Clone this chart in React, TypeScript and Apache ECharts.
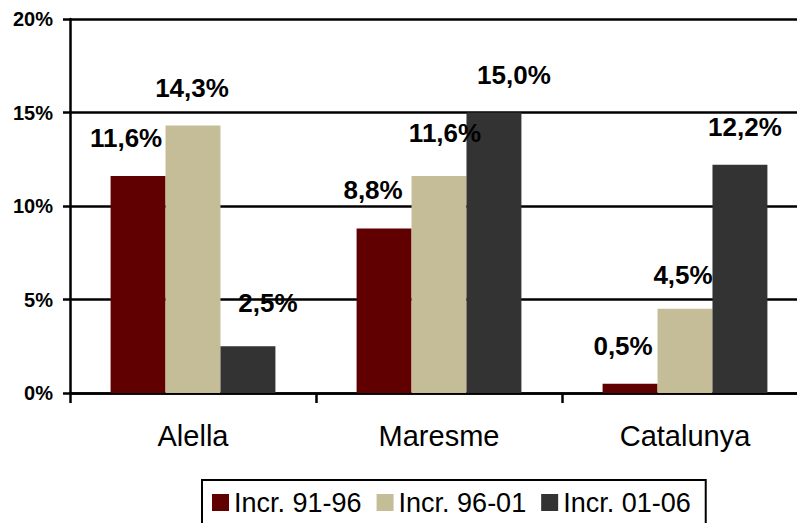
import React, { useEffect, useRef } from "react";
import * as echarts from "echarts";

const categories = ["Alella", "Maresme", "Catalunya"];
const seriesNames = ["Incr. 91-96", "Incr. 96-01", "Incr. 01-06"];
const incr9196 = [11.6, 8.8, 0.5];
const incr9601 = [14.3, 11.6, 4.5];
const incr0106 = [2.5, 15.0, 12.2];
const yTicks = [0, 5, 10, 15, 20];

const colors = ["#600000", "#C4BD97", "#333333"];
// manual label nudges (dx, dy) per series/category, as in the original layout
const labelNudges = [
  [[-12, 0], [-11, 0], [-7, 0]],
  [[-1, 0], [6, -5], [-2, 4]],
  [[20, -5], [20, 0], [5, 0]],
];

const FONT = "'Liberation Sans', Arial, Helvetica, sans-serif";

export default function App() {
  const ref = useRef<HTMLDivElement>(null);
  useEffect(() => {
    if (!ref.current) return;
    const chart = echarts.init(ref.current, null, { renderer: "svg" });
    const allData = [incr9196, incr9601, incr0106];
    const fmt = (v: number) => v.toFixed(1).replace(".", ",") + "%";
    chart.setOption({
      animation: false,
      backgroundColor: "#ffffff",
      textStyle: { fontFamily: FONT },
      grid: {
        left: 70,
        top: 19,
        width: 738,
        bottom: 130,
        containLabel: false,
        outerBoundsMode: "none",
      },
      legend: {
        left: 202,
        top: 480,
        orient: "horizontal",
        itemWidth: 17,
        itemHeight: 17,
        itemGap: 15,
        padding: [9, 15, 14, 10],
        borderColor: "#000",
        borderWidth: 2,
        borderRadius: 0,
        icon: "rect",
        textStyle: { fontSize: 27, color: "#000", fontFamily: FONT },
        data: seriesNames,
      },
      xAxis: {
        type: "category",
        data: categories,
        axisLine: { show: true, lineStyle: { color: "#000", width: 2.5 } },
        axisTick: { show: true, length: 10, lineStyle: { color: "#000", width: 2.5 } },
        axisLabel: { fontSize: 29, color: "#000", margin: 28, fontFamily: FONT },
        splitLine: { show: false },
      },
      yAxis: {
        type: "value",
        min: yTicks[0],
        max: yTicks[yTicks.length - 1],
        interval: 5,
        axisLine: { show: true, lineStyle: { color: "#000", width: 2.5 } },
        axisTick: { show: true, length: 7, lineStyle: { color: "#000", width: 2.5 } },
        axisLabel: {
          formatter: "{value}%",
          fontSize: 20,
          fontWeight: "bold",
          color: "#000",
          margin: 17,
          fontFamily: FONT,
        },
        splitLine: { show: true, lineStyle: { color: "#000", width: 2.5 } },
      },
      series: allData.map((d, si) => ({
        name: seriesNames[si],
        type: "bar",
        barGap: "0%",
        barCategoryGap: "33%",
        itemStyle: { color: colors[si] },
        data: d.map((v, ci) => ({
          value: v,
          label: { offset: labelNudges[si][ci] },
        })),
        label: {
          show: true,
          position: "top",
          distance: 25,
          formatter: (p: any) => fmt(p.value),
          fontSize: 26,
          fontWeight: "bold",
          color: "#000",
          fontFamily: FONT,
        },
      })),
    });
    return () => chart.dispose();
  }, []);
  return <div ref={ref} style={{ width: 797, height: 523, position: "absolute", left: 0, top: 0 }} />;
}
